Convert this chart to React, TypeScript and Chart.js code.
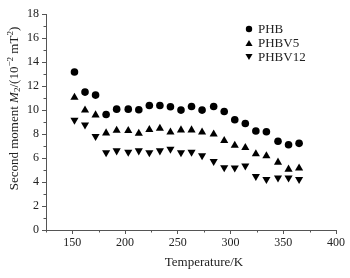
import React, { useEffect, useRef } from "react";
import { Chart, registerables } from "chart.js";

Chart.register(...registerables);

const temperatures = [152, 162, 172, 182, 192, 203, 213, 223, 233, 243, 253, 263, 273, 284, 294, 304, 314, 324, 334, 345, 355, 365];
const phb = [13.17, 11.49, 11.24, 9.63, 10.07, 10.07, 10.02, 10.37, 10.37, 10.27, 9.99, 10.29, 9.99, 10.29, 9.88, 9.19, 8.88, 8.25, 8.19, 7.39, 7.11, 7.22];
const phbv5 = [11.04, 9.99, 9.58, 8.08, 8.3, 8.27, 8.05, 8.36, 8.47, 8.16, 8.33, 8.33, 8.16, 7.99, 7.44, 7.05, 6.86, 6.34, 6.17, 5.64, 5.06, 5.15];
const phbv12 = [9.16, 8.77, 7.8, 6.45, 6.61, 6.5, 6.61, 6.45, 6.61, 6.75, 6.45, 6.5, 6.2, 5.73, 5.2, 5.18, 5.34, 4.48, 4.23, 4.35, 4.35, 4.23];
const seriesNames = ["PHB", "PHBV5", "PHBV12"];
const xTicks = [150, 200, 250, 300, 350, 400];
const xMinorTicks = [125, 175, 225, 275, 325, 375];
const yTicks = [0, 2, 4, 6, 8, 10, 12, 14, 16, 18];
const yMinorTicks = [1, 3, 5, 7, 9, 11, 13, 15, 17];

const SERIF = "'Liberation Serif', 'Times New Roman', serif";
const TEXT = "#222";
const AXIS = "#555";

const pointDefs = [
  { style: "circle", radius: 3.8, rotation: 0 },
  { style: "triangle", radius: 4.7, rotation: 0 },
  { style: "triangle", radius: 4.7, rotation: 180 },
];

function drawMarker(ctx: CanvasRenderingContext2D, style: string, r: number, rot: number, x: number, y: number) {
  ctx.save();
  ctx.translate(x, y);
  ctx.rotate((rot * Math.PI) / 180);
  ctx.beginPath();
  if (style === "circle") {
    ctx.arc(0, 0, r, 0, Math.PI * 2);
  } else {
    for (let k = 0; k < 3; k++) {
      const a = (k * 2 * Math.PI) / 3;
      const px = Math.sin(a) * r;
      const py = -Math.cos(a) * r;
      if (k === 0) ctx.moveTo(px, py);
      else ctx.lineTo(px, py);
    }
    ctx.closePath();
  }
  ctx.fillStyle = "#000";
  ctx.fill();
  ctx.restore();
}

const textPlugin = {
  id: "texts",
  afterDraw(chart: any) {
    const ctx = chart.ctx as CanvasRenderingContext2D;
    ctx.save();
    // legend
    const lx = 249;
    const ly = [29, 43, 57];
    seriesNames.forEach((name, i) => {
      const d = pointDefs[i];
      drawMarker(ctx, d.style, d.radius - 0.6, d.rotation, lx, ly[i] + (d.style === "triangle" ? (d.rotation ? -1 : 1) : 0));
      ctx.font = `13px ${SERIF}`;
      ctx.fillStyle = TEXT;
      ctx.textBaseline = "middle";
      ctx.textAlign = "left";
      ctx.fillText(name, lx + 9, ly[i] + 1);
    });

    // x title
    ctx.font = `13px ${SERIF}`;
    ctx.textAlign = "center";
    ctx.textBaseline = "middle";
    ctx.fillStyle = TEXT;
    ctx.fillText("Temperature/K", 204, 263);

    // y title with rich text
    const base = 13;
    const parts: { t: string; font: string; dy: number }[] = [
      { t: "Second moment ", font: `${base}px ${SERIF}`, dy: 0 },
      { t: "M", font: `italic ${base}px ${SERIF}`, dy: 0 },
      { t: "2", font: `${base * 0.7}px ${SERIF}`, dy: 3 },
      { t: "/(10", font: `${base}px ${SERIF}`, dy: 0 },
      { t: "\u22122", font: `${base * 0.7}px ${SERIF}`, dy: -4 },
      { t: " mT", font: `${base}px ${SERIF}`, dy: 0 },
      { t: "2", font: `${base * 0.7}px ${SERIF}`, dy: -4 },
      { t: ")", font: `${base}px ${SERIF}`, dy: 0 },
    ];
    let total = 0;
    const widths = parts.map((p) => {
      ctx.font = p.font;
      const w = ctx.measureText(p.t).width;
      total += w;
      return w;
    });
    ctx.translate(15, 108.5);
    ctx.rotate(-Math.PI / 2);
    ctx.textAlign = "left";
    ctx.textBaseline = "middle";
    let x = -total / 2;
    parts.forEach((p, i) => {
      ctx.font = p.font;
      ctx.fillText(p.t, x, p.dy);
      x += widths[i];
    });
    ctx.restore();
  },
};

const minorPlugin = {
  id: "minorTicks",
  afterDraw(chart: any) {
    const ctx = chart.ctx as CanvasRenderingContext2D;
    const xs = chart.scales.x;
    const ys = chart.scales.y;
    const area = chart.chartArea;
    ctx.save();
    ctx.strokeStyle = AXIS;
    ctx.lineWidth = 1;
    ctx.beginPath();
    for (const v of xMinorTicks) {
      const px = Math.round(xs.getPixelForValue(v)) + 0.5;
      ctx.moveTo(px, area.bottom);
      ctx.lineTo(px, area.bottom + 2.5);
    }
    for (const v of yMinorTicks) {
      const py = Math.round(ys.getPixelForValue(v)) + 0.5;
      ctx.moveTo(area.left, py);
      ctx.lineTo(area.left - 2.5, py);
    }
    ctx.stroke();
    ctx.restore();
  },
};

export default function App() {
  const ref = useRef<HTMLCanvasElement | null>(null);
  useEffect(() => {
    if (!ref.current) return;
    const all = [phb, phbv5, phbv12];
    const chart = new Chart(ref.current, {
      type: "scatter",
      data: {
        datasets: all.map((vals, i) => ({
          label: seriesNames[i],
          data: temperatures.map((t, k) => ({ x: t, y: vals[k] })),
          pointStyle: pointDefs[i].style as any,
          pointRadius: pointDefs[i].radius,
          pointRotation: pointDefs[i].rotation,
          backgroundColor: "#000",
          borderColor: "#000",
          borderWidth: 0,
          showLine: false,
        })),
      },
      options: {
        responsive: false,
        animation: false,
        devicePixelRatio: 1,
        layout: { padding: { top: 14, right: 14, left: 0, bottom: 0 } },
        plugins: { legend: { display: false }, tooltip: { enabled: false } },
        scales: {
          x: {
            type: "linear",
            min: 125,
            max: 400,
            afterBuildTicks: (s: any) => {
              s.ticks = xTicks.map((v) => ({ value: v }));
            },
            afterFit: (s: any) => {
              s.height = 48;
            },
            grid: { drawOnChartArea: false, drawTicks: true, tickLength: 4, color: AXIS },
            border: { display: true, color: AXIS, width: 1 },
            ticks: { color: TEXT, font: { family: SERIF, size: 12 }, padding: 2, maxRotation: 0 },
          },
          y: {
            type: "linear",
            min: 0,
            max: 18,
            afterBuildTicks: (s: any) => {
              s.ticks = yTicks.map((v) => ({ value: v }));
            },
            afterFit: (s: any) => {
              s.width = 46;
            },
            grid: { drawOnChartArea: false, drawTicks: true, tickLength: 4, color: AXIS },
            border: { display: true, color: AXIS, width: 1 },
            ticks: { color: TEXT, font: { family: SERIF, size: 12 }, padding: 3 },
          },
        },
      },
      plugins: [minorPlugin, textPlugin],
    });
    return () => chart.destroy();
  }, []);
  return (
    <div style={{ position: "fixed", left: 0, top: 0, width: 350, height: 278, background: "#fff" }}>
      <canvas ref={ref} width={350} height={278} />
    </div>
  );
}
